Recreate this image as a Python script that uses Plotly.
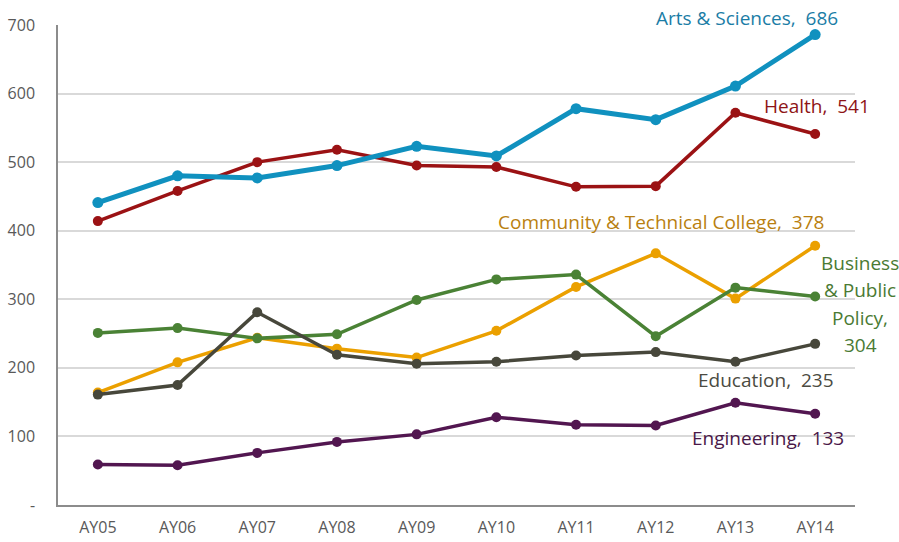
import plotly.graph_objects as go

years = ["AY05", "AY06", "AY07", "AY08", "AY09", "AY10", "AY11", "AY12", "AY13", "AY14"]

arts_sciences = [441, 480, 477, 495, 523, 509, 578, 562, 611, 686]
health = [414, 458, 500, 518, 495, 493, 464, 465, 572, 541]
business = [251, 258, 243, 249, 299, 329, 336, 246, 317, 304]
community_tech = [164, 208, 244, 228, 215, 254, 318, 367, 301, 378]
education = [161, 175, 281, 219, 206, 209, 218, 223, 209, 235]
engineering = [59, 58, 76, 92, 103, 128, 117, 116, 149, 133]

y_ticks = [0, 100, 200, 300, 400, 500, 600, 700]
y_tick_text = ["-", "100", "200", "300", "400", "500", "600", "700"]

FONT = "Open Sans"

series = [
    ("Community & Technical College", community_tech, "#EBA000", 3.5, 10),
    ("Business & Public Policy", business, "#4A8235", 3.5, 10),
    ("Education", education, "#47473B", 3.5, 10),
    ("Engineering", engineering, "#521650", 3.5, 10),
    ("Health", health, "#9B1214", 3.5, 10),
    ("Arts & Sciences", arts_sciences, "#1091BF", 5, 11),
]

fig = go.Figure()
for name, vals, color, lw, ms in series:
    fig.add_trace(go.Scatter(
        x=years, y=vals, mode="lines+markers", name=name,
        line=dict(color=color, width=lw),
        marker=dict(color=color, size=ms),
        showlegend=False, cliponaxis=False,
    ))

nb = "\u00a0"
labels = [
    (f"Arts & Sciences,{nb}{nb}{arts_sciences[-1]}", 0.981, 1.0146, "right", "#1B7DA6"),
    (f"Health,{nb}{nb}{health[-1]}", 1.021, 0.8313, "right", "#8E1416"),
    (f"Community & Technical College,{nb}{nb}{community_tech[-1]}", 0.757, 0.5896, "center", "#B97F10"),
    (f"Education,{nb}{nb}{education[-1]}", 0.976, 0.2604, "right", "#4B4B42"),
    (f"Engineering,{nb}{nb}{engineering[-1]}", 0.989, 0.1396, "right", "#4A1848"),
]
for text, x, y, anchor, color in labels:
    fig.add_annotation(x=x, y=y, xref="paper", yref="paper", text=text, showarrow=False,
                       xanchor=anchor, yanchor="middle",
                       font=dict(family=FONT, size=19, color=color))

bpp_lines = ["Business", "& Public", "Policy,", str(business[-1])]
bpp_y = [0.504, 0.448, 0.3896, 0.3333]
for t, y in zip(bpp_lines, bpp_y):
    fig.add_annotation(x=1.0063, y=y, xref="paper", yref="paper", text=t, showarrow=False,
                       xanchor="center", yanchor="middle",
                       font=dict(family=FONT, size=19, color="#4A7A33"))

fig.update_layout(
    width=899, height=542,
    margin=dict(l=58, r=44, t=25, b=37, autoexpand=False),
    paper_bgcolor="white", plot_bgcolor="white",
    font=dict(family=FONT, color="#595959"),
)
fig.update_xaxes(
    type="category", range=[-0.5, 9.5], automargin=False,
    showgrid=False, showline=True, linecolor="#8C8C8C", linewidth=1.5,
    ticks="", tickfont=dict(size=16, color="#595959"), ticklabelstandoff=7,
)
fig.update_yaxes(
    range=[0, 700], tickvals=y_ticks, ticktext=y_tick_text, automargin=False,
    showgrid=True, gridcolor="#D9D9D9", gridwidth=1.5,
    showline=True, linecolor="#8C8C8C", linewidth=1.5,
    zeroline=False, ticks="",
    tickfont=dict(size=16, color="#595959"), ticklabelstandoff=18,
)

fig.write_html("out.html", config={"displayModeBar": False},
               post_script="document.body.style.margin='0';")
